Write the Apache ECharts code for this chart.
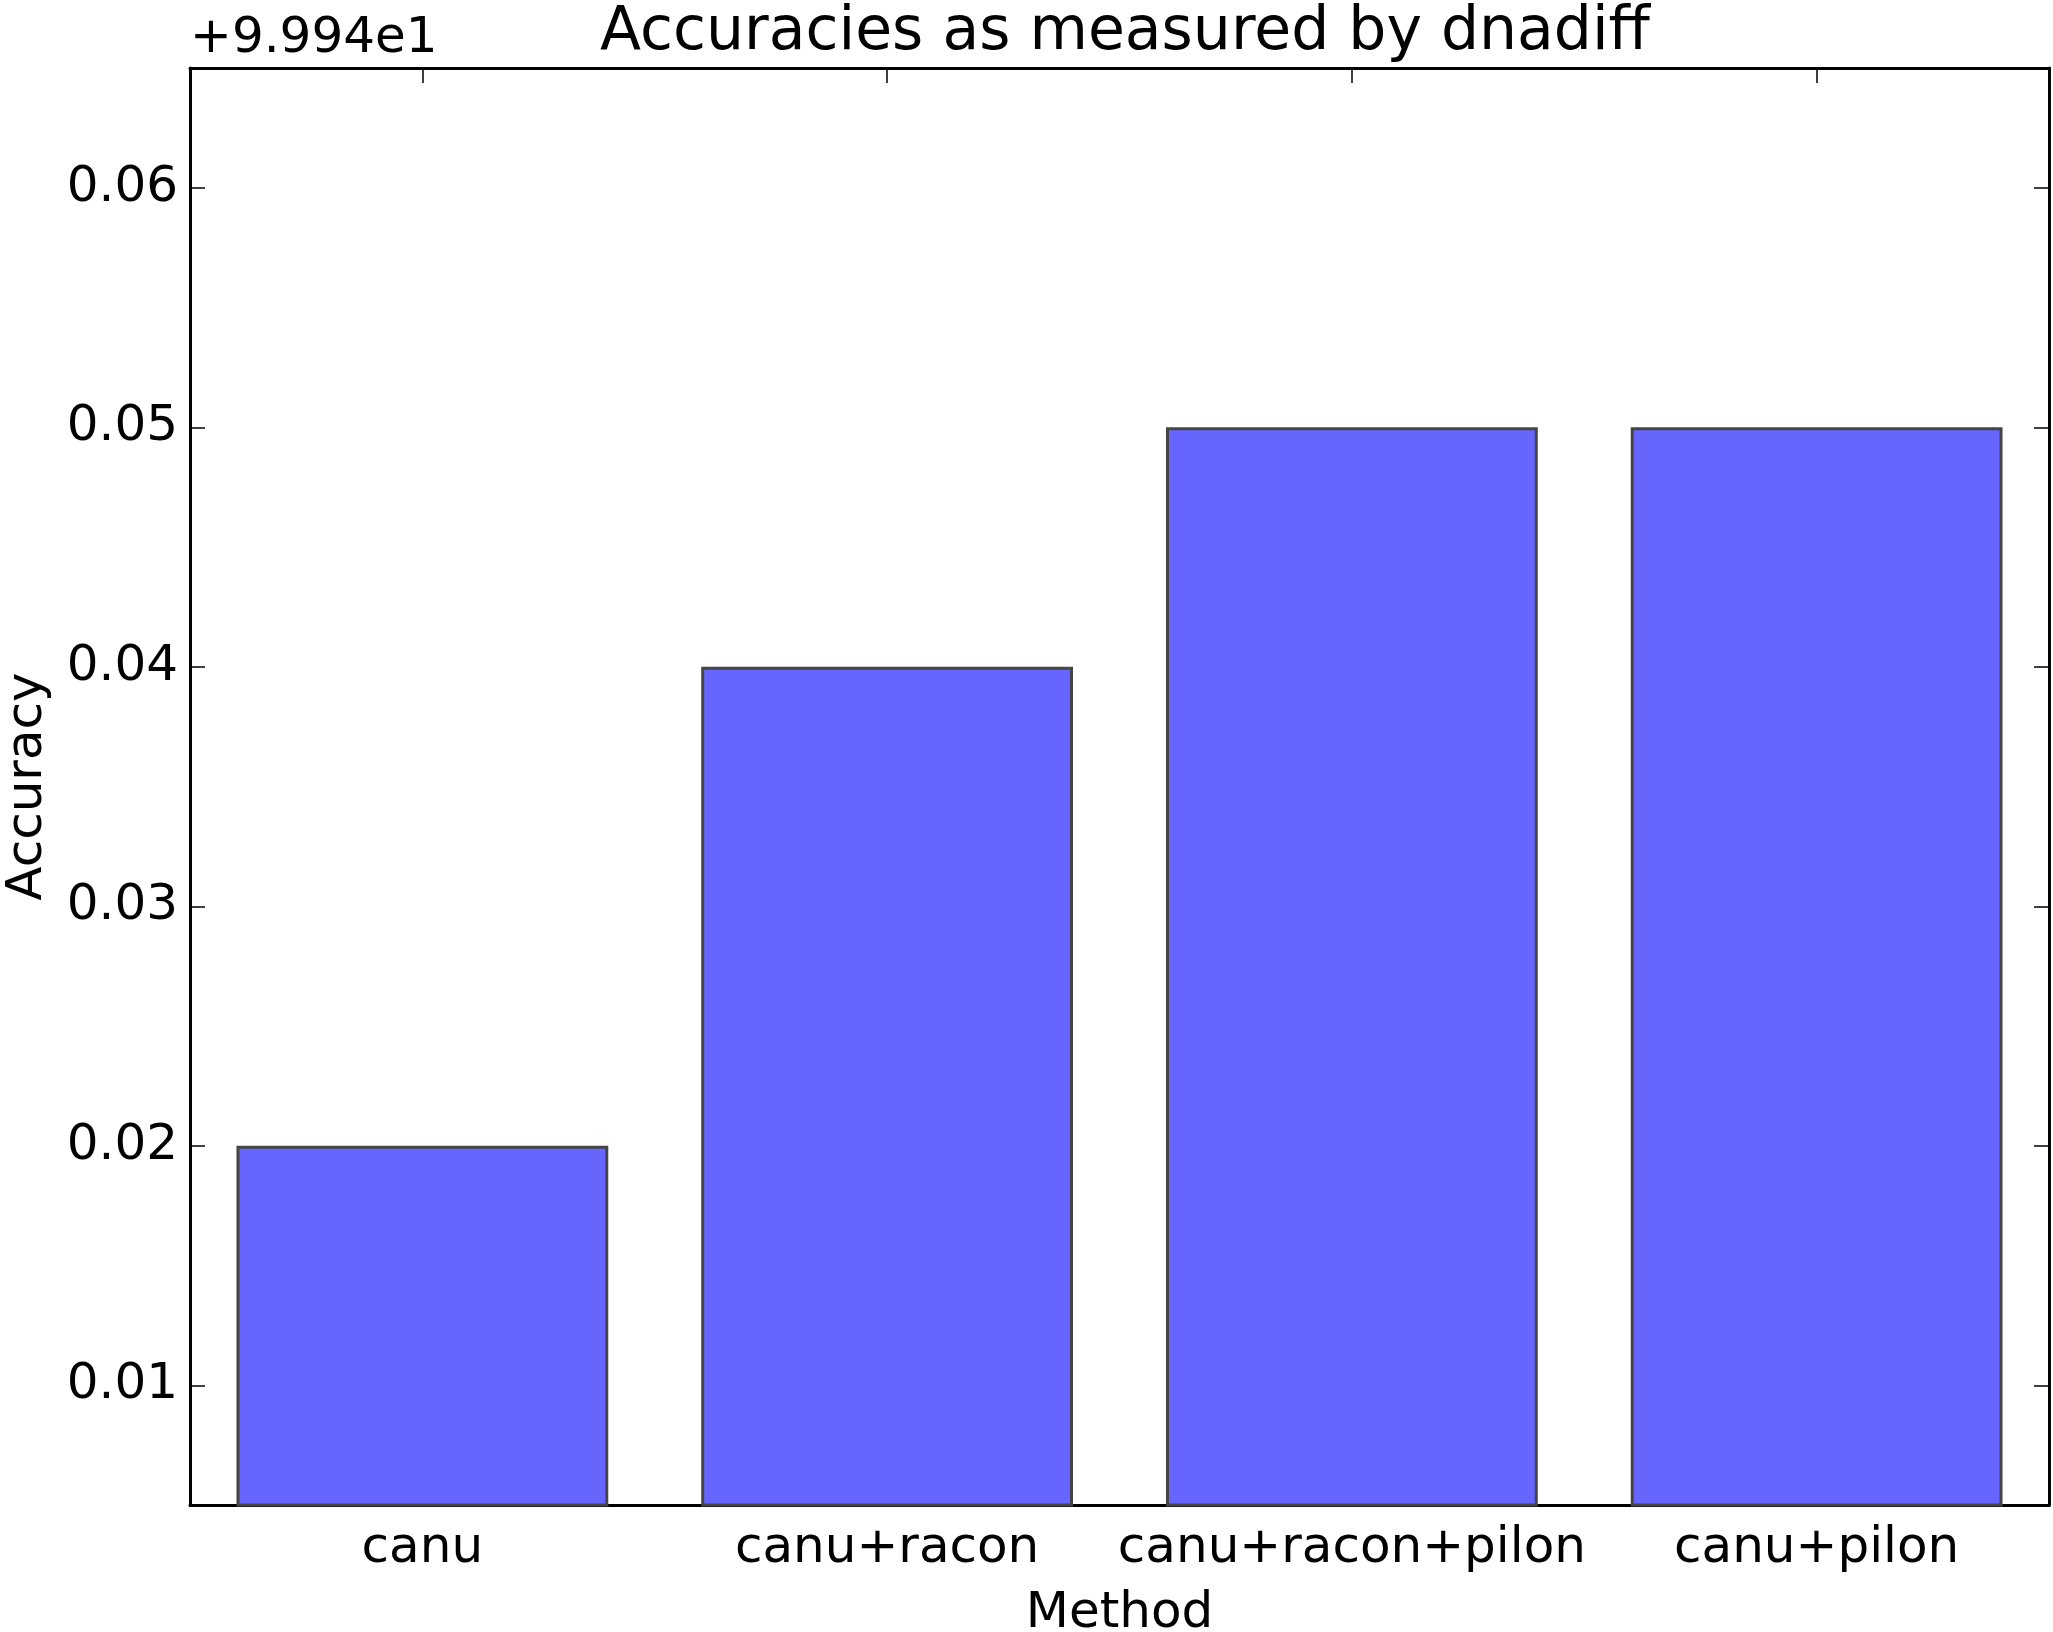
<!DOCTYPE html>
<html>
<head>
<meta charset="utf-8">
<script src="https://cdn.jsdelivr.net/npm/echarts@6/dist/echarts.min.js"></script>
<style>
  html, body { margin: 0; padding: 0; background: #fff; }
  #main { width: 2053px; height: 1632px; }
</style>
</head>
<body>
<div id="main"></div>
<script>
// accuracy offsets above 99.94 (shown as +9.994e1 on the axis)
var methods = ['canu', 'canu+racon', 'canu+racon+pilon', 'canu+pilon'];
var accuracy = [0.02, 0.04, 0.05, 0.05];
var offsetText = '+9.994e1';
var yMin = 0.005;
var yMax = 0.065;

var font = 'DejaVu Sans';

var chart = echarts.init(document.getElementById('main'));

var option = {
  backgroundColor: '#ffffff',
  animation: false,
  title: {
    text: 'Accuracies as measured by dnadiff',
    left: 1120,
    textAlign: 'center',
    top: -2,
    textStyle: { fontFamily: font, fontSize: 60, fontWeight: 'normal', color: '#000' }
  },
  graphic: [
    {
      type: 'text',
      left: 190,
      top: 14,
      style: { text: offsetText, font: '50px "DejaVu Sans"', fill: '#000' }
    }
  ],
  grid: { left: 190, right: 4, top: 68, bottom: 127, outerBoundsMode: 'none', containLabel: false },
  xAxis: [
    {
      type: 'category',
      data: methods,
      position: 'bottom',
      name: 'Method',
      nameLocation: 'middle',
      nameGap: 84,
      nameTextStyle: { fontFamily: font, fontSize: 50, color: '#000' },
      axisLine: { show: true, lineStyle: { color: '#000', width: 3 } },
      axisTick: { show: true, inside: true, alignWithLabel: true, length: 15, lineStyle: { color: '#000', width: 1.5 } },
      axisLabel: { interval: 0, fontFamily: font, fontSize: 50, color: '#000', margin: 19 },
      splitLine: { show: false }
    },
    {
      type: 'category',
      data: methods,
      position: 'top',
      axisLine: { show: true, lineStyle: { color: '#000', width: 3 } },
      axisTick: { show: true, inside: true, alignWithLabel: true, interval: 0, length: 15, lineStyle: { color: '#000', width: 1.5 } },
      axisLabel: { show: false },
      splitLine: { show: false }
    }
  ],
  yAxis: [
    {
      type: 'value',
      min: yMin,
      max: yMax,
      splitNumber: 6,
      position: 'left',
      name: 'Accuracy',
      nameLocation: 'middle',
      nameGap: 137,
      nameRotate: 90,
      nameTextStyle: { fontFamily: font, fontSize: 50, color: '#000' },
      axisLine: { show: true, lineStyle: { color: '#000', width: 3 } },
      axisTick: { show: true, inside: true, length: 15, lineStyle: { color: '#000', width: 1.5 } },
      axisLabel: {
        fontFamily: font, fontSize: 50, color: '#000', margin: 12,
        showMinLabel: false, showMaxLabel: false,
        formatter: function (v) { return v.toFixed(2); }
      },
      splitLine: { show: false }
    },
    {
      type: 'value',
      min: yMin,
      max: yMax,
      splitNumber: 6,
      position: 'right',
      axisLine: { show: true, lineStyle: { color: '#000', width: 3 } },
      axisTick: { show: true, inside: true, length: 15, lineStyle: { color: '#000', width: 1.5 } },
      axisLabel: { show: false },
      splitLine: { show: false }
    }
  ],
  series: [
    {
      type: 'bar',
      data: accuracy,
      xAxisIndex: 0,
      yAxisIndex: 0,
      barCategoryGap: '20%',
      itemStyle: { color: '#6666ff', borderColor: '#454545', borderWidth: 3 }
    }
  ]
};

chart.setOption(option);
</script>
</body>
</html>
